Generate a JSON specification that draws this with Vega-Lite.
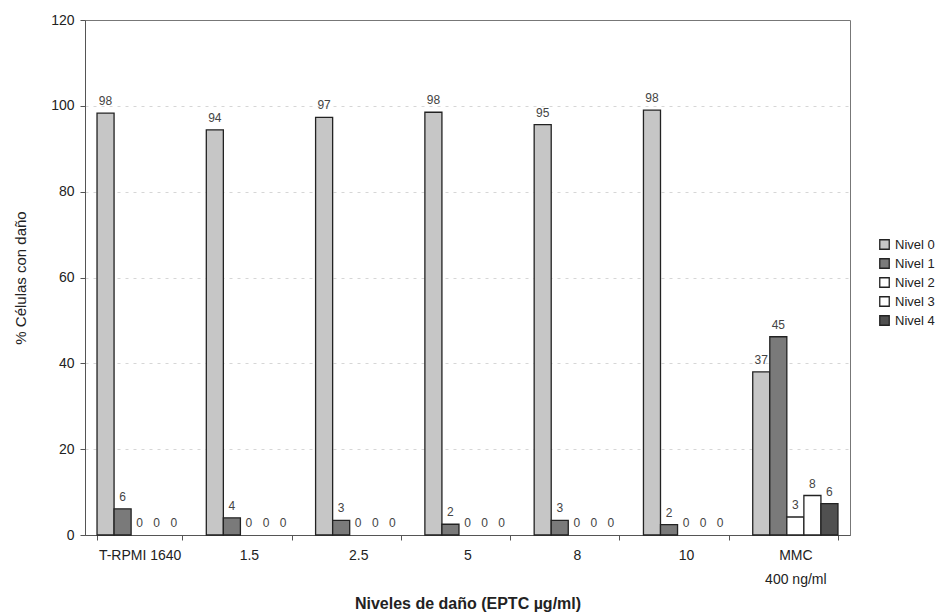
{
  "$schema": "https://vega.github.io/schema/vega-lite/v6.json",
  "width": 765,
  "height": 515,
  "autosize": "none",
  "padding": {"left": 85, "top": 20, "right": 96, "bottom": 80},
  "background": "white",
  "config": {
    "font": "Liberation Sans",
    "view": {"stroke": "#777777", "strokeWidth": 1},
    "axis": {"labelFont": "Liberation Sans", "titleFont": "Liberation Sans", "labelColor": "#222", "titleColor": "#222"}
  },
  "data": {
    "values": [
      {"grupo": "T-RPMI 1640", "nivel": "Nivel 0", "valor": 98.3, "etiqueta": "98"},
      {"grupo": "T-RPMI 1640", "nivel": "Nivel 1", "valor": 6.1, "etiqueta": "6"},
      {"grupo": "T-RPMI 1640", "nivel": "Nivel 2", "valor": 0, "etiqueta": "0"},
      {"grupo": "T-RPMI 1640", "nivel": "Nivel 3", "valor": 0, "etiqueta": "0"},
      {"grupo": "T-RPMI 1640", "nivel": "Nivel 4", "valor": 0, "etiqueta": "0"},
      {"grupo": "1.5", "nivel": "Nivel 0", "valor": 94.4, "etiqueta": "94"},
      {"grupo": "1.5", "nivel": "Nivel 1", "valor": 4.0, "etiqueta": "4"},
      {"grupo": "1.5", "nivel": "Nivel 2", "valor": 0, "etiqueta": "0"},
      {"grupo": "1.5", "nivel": "Nivel 3", "valor": 0, "etiqueta": "0"},
      {"grupo": "1.5", "nivel": "Nivel 4", "valor": 0, "etiqueta": "0"},
      {"grupo": "2.5", "nivel": "Nivel 0", "valor": 97.3, "etiqueta": "97"},
      {"grupo": "2.5", "nivel": "Nivel 1", "valor": 3.4, "etiqueta": "3"},
      {"grupo": "2.5", "nivel": "Nivel 2", "valor": 0, "etiqueta": "0"},
      {"grupo": "2.5", "nivel": "Nivel 3", "valor": 0, "etiqueta": "0"},
      {"grupo": "2.5", "nivel": "Nivel 4", "valor": 0, "etiqueta": "0"},
      {"grupo": "5", "nivel": "Nivel 0", "valor": 98.5, "etiqueta": "98"},
      {"grupo": "5", "nivel": "Nivel 1", "valor": 2.5, "etiqueta": "2"},
      {"grupo": "5", "nivel": "Nivel 2", "valor": 0, "etiqueta": "0"},
      {"grupo": "5", "nivel": "Nivel 3", "valor": 0, "etiqueta": "0"},
      {"grupo": "5", "nivel": "Nivel 4", "valor": 0, "etiqueta": "0"},
      {"grupo": "8", "nivel": "Nivel 0", "valor": 95.6, "etiqueta": "95"},
      {"grupo": "8", "nivel": "Nivel 1", "valor": 3.4, "etiqueta": "3"},
      {"grupo": "8", "nivel": "Nivel 2", "valor": 0, "etiqueta": "0"},
      {"grupo": "8", "nivel": "Nivel 3", "valor": 0, "etiqueta": "0"},
      {"grupo": "8", "nivel": "Nivel 4", "valor": 0, "etiqueta": "0"},
      {"grupo": "10", "nivel": "Nivel 0", "valor": 99.0, "etiqueta": "98"},
      {"grupo": "10", "nivel": "Nivel 1", "valor": 2.4, "etiqueta": "2"},
      {"grupo": "10", "nivel": "Nivel 2", "valor": 0, "etiqueta": "0"},
      {"grupo": "10", "nivel": "Nivel 3", "valor": 0, "etiqueta": "0"},
      {"grupo": "10", "nivel": "Nivel 4", "valor": 0, "etiqueta": "0"},
      {"grupo": "MMC 400 ng/ml", "nivel": "Nivel 0", "valor": 38.0, "etiqueta": "37"},
      {"grupo": "MMC 400 ng/ml", "nivel": "Nivel 1", "valor": 46.2, "etiqueta": "45"},
      {"grupo": "MMC 400 ng/ml", "nivel": "Nivel 2", "valor": 4.2, "etiqueta": "3"},
      {"grupo": "MMC 400 ng/ml", "nivel": "Nivel 3", "valor": 9.2, "etiqueta": "8"},
      {"grupo": "MMC 400 ng/ml", "nivel": "Nivel 4", "valor": 7.3, "etiqueta": "6"}
    ]
  },
  "encoding": {
    "x": {
      "field": "grupo",
      "type": "nominal",
      "sort": ["T-RPMI 1640", "1.5", "2.5", "5", "8", "10", "MMC 400 ng/ml"],
      "scale": {"paddingInner": 0.22, "paddingOuter": 0.11},
      "axis": {
        "title": "Niveles de daño (EPTC µg/ml)",
        "titleFontSize": 16,
        "titleFontWeight": "bold",
        "titlePadding": 9,
        "labelAngle": 0,
        "labelFontSize": 14,
        "labelPadding": 8,
        "labelLineHeight": 24,
        "tickBand": "extent",
        "tickSize": 5,
        "domainColor": "#555",
        "tickColor": "#555",
        "labelExpr": "datum.value == 'MMC 400 ng/ml' ? ['MMC', '400 ng/ml'] : datum.value"
      }
    },
    "xOffset": {"field": "nivel", "type": "nominal", "sort": ["Nivel 0", "Nivel 1", "Nivel 2", "Nivel 3", "Nivel 4"], "scale": {"domain": ["Nivel 0", "Nivel 1", "Nivel 2", "Nivel 3", "Nivel 4"], "paddingInner": 0, "paddingOuter": 0}},
    "y": {
      "field": "valor",
      "type": "quantitative",
      "scale": {"domain": [0, 120]},
      "axis": {
        "title": "% Células con daño",
        "titleFontSize": 15,
        "titleFontWeight": "normal",
        "titlePadding": 22,
        "labelFontSize": 14,
        "values": [0, 20, 40, 60, 80, 100, 120],
        "tickSize": 5,
        "labelPadding": 6,
        "grid": true,
        "gridColor": "#d6d6d6",
        "gridDash": [3, 5],
        "gridOpacity": {"condition": {"test": "datum.value == 120 || datum.value == 0", "value": 0}, "value": 1},
        "domainColor": "#555",
        "tickColor": "#555"
      }
    }
  },
  "layer": [
    {
      "transform": [{"filter": "datum.valor > 0"}],
      "mark": {"type": "bar", "stroke": "#222", "strokeWidth": 1.3},
      "encoding": {
        "fill": {
          "field": "nivel",
          "type": "nominal",
          "sort": ["Nivel 0", "Nivel 1", "Nivel 2", "Nivel 3", "Nivel 4"],
          "scale": {"domain": ["Nivel 0", "Nivel 1", "Nivel 2", "Nivel 3", "Nivel 4"], "range": ["#c6c6c6", "#7a7a7a", "#ffffff", "#ffffff", "#505050"]},
          "legend": {
            "title": null,
            "orient": "none",
            "legendX": 793,
            "legendY": 218,
            "symbolType": "square",
            "symbolSize": 90,
            "symbolStrokeColor": "#222",
            "symbolStrokeWidth": 1.3,
            "labelFontSize": 13,
            "labelColor": "#222",
            "rowPadding": 4
          }
        }
      }
    },
    {
      "mark": {"type": "text", "dy": -12, "fontSize": 12, "color": "#444", "font": "Liberation Sans"},
      "encoding": {"text": {"field": "etiqueta"}}
    }
  ]
}
